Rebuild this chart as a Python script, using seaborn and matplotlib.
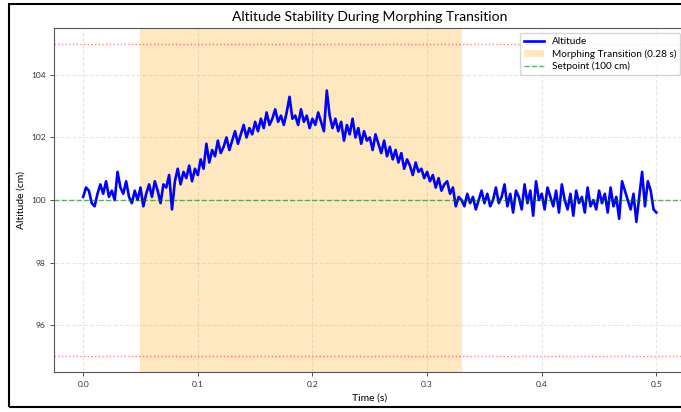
import numpy as np
import matplotlib
matplotlib.use("Agg")
import matplotlib.pyplot as plt
import seaborn as sns
from matplotlib.patches import Rectangle

# altitude samples (cm), every 2.5 ms from 0 to 0.5 s
altitude = [
    100.1, 100.4, 100.3, 99.9, 99.8, 100.2, 100.5, 100.2, 100.6, 100.1,
    100.3, 100.0, 100.9, 100.4, 100.2, 100.6, 100.1, 99.9, 100.3, 100.0,
    100.4, 99.8, 100.2, 100.5, 100.1, 100.6, 100.3, 99.9, 100.5, 100.4,
    100.8, 99.7, 100.6, 101.0, 100.5, 100.9, 100.7, 101.1, 100.6, 101.0,
    100.8, 101.3, 101.0, 101.8, 101.2, 101.6, 101.4, 101.9, 101.5, 101.7,
    102.0, 101.6, 101.9, 102.2, 101.8, 102.1, 102.4, 102.0, 102.3, 102.1,
    102.5, 102.2, 102.6, 102.3, 102.8, 102.4, 102.6, 102.9, 102.5, 102.7,
    102.4, 102.8, 103.3, 102.6, 102.7, 102.4, 102.9, 102.5, 102.7, 102.3,
    102.6, 102.4, 102.8, 102.5, 102.2, 103.5, 102.7, 102.3, 102.6, 102.2,
    102.5, 101.9, 102.4, 102.1, 102.6, 102.0, 102.3, 101.8, 102.2, 101.9,
    102.0, 101.6, 102.1, 101.8, 101.5, 101.9, 101.4, 101.7, 101.3, 101.6,
    101.2, 101.5, 101.0, 101.3, 101.1, 100.8, 101.2, 100.9, 101.0, 100.7,
    100.9, 100.6, 100.8, 100.4, 100.7, 100.3, 100.5, 100.6, 100.2, 100.4,
    99.8, 100.1, 100.0, 99.8, 100.2, 99.9, 100.1, 99.7, 100.0, 100.3,
    99.9, 100.2, 99.8, 100.0, 100.4, 99.9, 100.1, 100.5, 99.8, 100.2,
    99.6, 100.3, 100.1, 99.7, 100.5, 99.9, 100.3, 99.5, 100.6, 100.0,
    100.2, 99.7, 100.4, 100.1, 99.8, 100.3, 99.6, 100.5, 100.0, 99.7,
    100.2, 99.5, 100.3, 99.9, 100.1, 99.6, 100.4, 99.8, 100.0, 99.7,
    100.3, 99.9, 100.2, 99.6, 100.4, 99.8, 100.1, 99.4, 100.6, 100.3,
    100.0, 99.7, 100.2, 99.3, 100.1, 100.9, 99.8, 100.6, 100.3, 99.7,
    99.6,
]
time_s = np.linspace(0.0, 0.5, len(altitude))

transition_start = 0.05
transition_end = 0.33
setpoint = 100
limits = [95, 105]

plt.rcParams['font.family'] = ['Lato', 'DejaVu Sans']

fig = plt.figure(figsize=(6.81, 4.12), dpi=100)
ax = fig.add_axes([0.080, 0.097, 0.926, 0.835])

sns.lineplot(x=time_s, y=altitude, color='blue', linewidth=1.9, label='Altitude', ax=ax)
ax.axvspan(transition_start, transition_end, color='orange', alpha=0.25, lw=0,
           label=f'Morphing Transition ({transition_end - transition_start:.2f} s)')
ax.axhline(setpoint, color='green', linestyle='--', alpha=0.6, lw=1,
           label=f'Setpoint ({setpoint} cm)')
for lim in limits:
    ax.axhline(lim, color='red', linestyle=':', alpha=0.5, lw=1)

ax.set_xlim(-0.025, 0.525)
ax.set_ylim(94.5, 105.5)
ax.grid(True, linestyle='--', alpha=0.3)
ax.tick_params(labelsize=6, length=3, width=0.6, colors='#333333')
for s in ax.spines.values():
    s.set_linewidth(0.8)
    s.set_color('#555555')

ax.set_title('Altitude Stability During Morphing Transition', fontsize=10, pad=5)
ax.set_xlabel('Time (s)', fontsize=7.5)
ax.set_ylabel('Altitude (cm)', fontsize=7.5)
ax.legend(loc='upper right', fontsize=7.2, framealpha=0.8, labelspacing=0.3)

# black frame around the figure
fig.patches.append(Rectangle((0.013, 0.012), 1.0, 0.978, transform=fig.transFigure,
                             fill=False, edgecolor='black', lw=1.5))

fig.savefig('out.png', dpi=100)
